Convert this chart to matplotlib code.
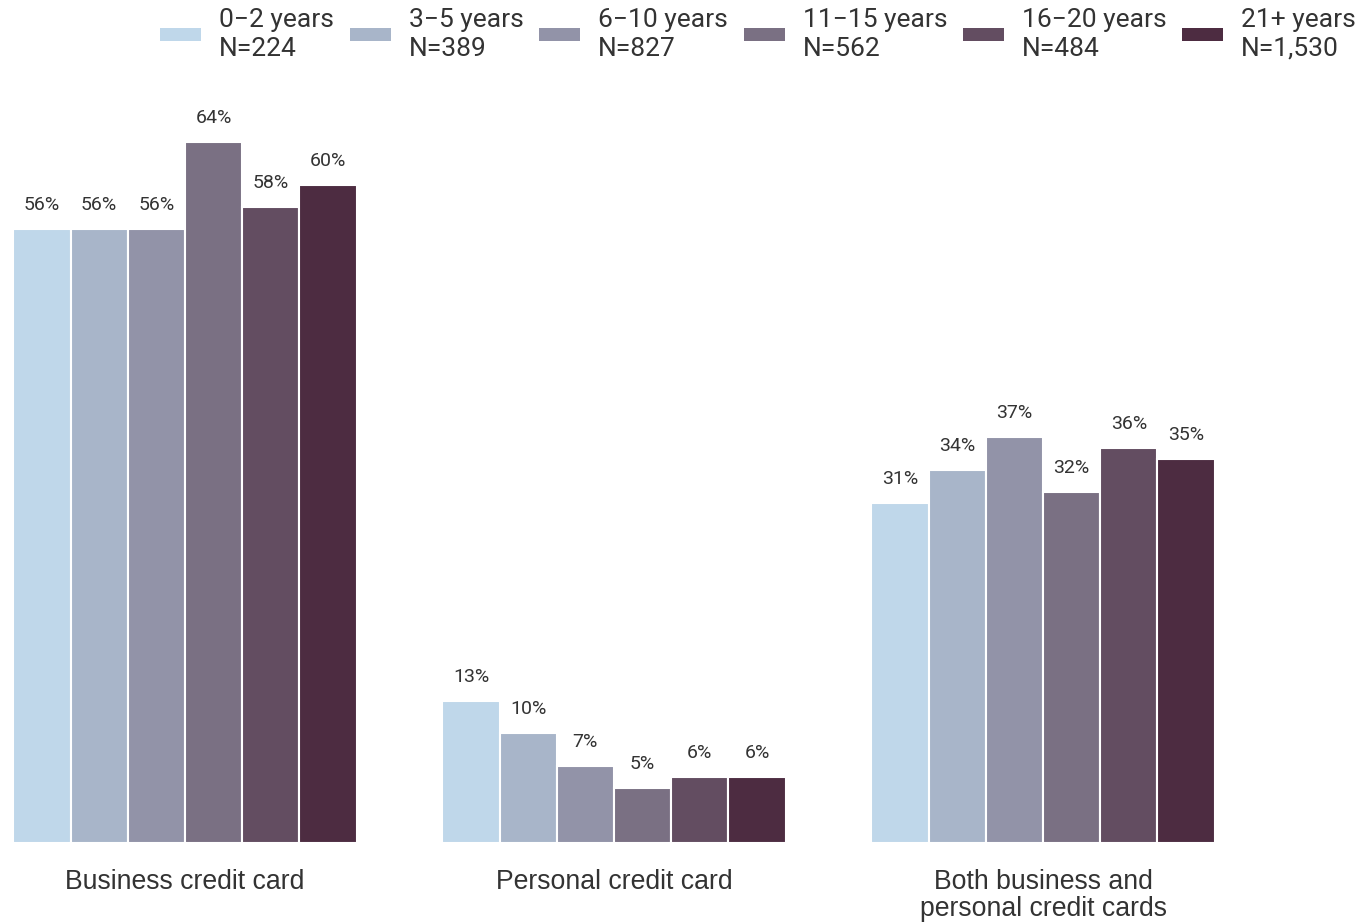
import matplotlib
matplotlib.use("Agg")
import matplotlib.pyplot as plt
import numpy as np
from matplotlib.patches import Rectangle

plt.rcParams['font.family'] = ['Roboto', 'DejaVu Sans']

categories = ["Business credit card", "Personal credit card", "Both business and\npersonal credit cards"]
series_names = ["0\u22122 years\nN=224", "3\u22125 years\nN=389", "6\u221210 years\nN=827",
                "11\u221215 years\nN=562", "16\u221220 years\nN=484", "21+ years\nN=1,530"]
values = [
    [56, 13, 31],
    [56, 10, 34],
    [56, 7, 37],
    [64, 5, 32],
    [58, 6, 36],
    [60, 6, 35],
]
colors = ["#BFD7EA", "#A8B5C9", "#9293A8", "#7A7083", "#634D61", "#4D2C41"]

W, H = 1360, 924
fig = plt.figure(figsize=(W / 100, H / 100), dpi=100)
base_px = 843
top_px = 100
ax = fig.add_axes([0, (H - base_px) / H, 1, (base_px - top_px) / H])
px_per_pct = 10.96
ax.set_ylim(0, (base_px - top_px) / px_per_pct)
grp_px = 429.0
ax.set_xlim(-185 / grp_px, (W - 185) / grp_px)

x = np.arange(len(categories))
n = len(series_names)
bw = 57.2 / grp_px
for i in range(n):
    xs = x + (i - (n - 1) / 2) * bw
    ax.bar(xs, values[i], width=bw, color=colors[i], edgecolor='white', linewidth=1.5)
    for xx, v in zip(xs, values[i]):
        ax.annotate(f"{v}%", (xx, v), xytext=(0, 15), textcoords='offset pixels',
                    ha='center', va='bottom', fontsize=14, color='#333333')

ax.set_xticks(x)
ax.set_xticklabels(categories, fontsize=19.2, color='#333333', linespacing=1.05,
                   family=['Liberation Sans', 'DejaVu Sans'])
ax.tick_params(axis='x', length=0, pad=19)
ax.set_yticks([])
for s in ax.spines.values():
    s.set_visible(False)

handles = [Rectangle((0, 0), 1, 1, facecolor=c, edgecolor='none') for c in colors]
leg = fig.legend(handles, series_names, loc='upper right', bbox_to_anchor=(1356 / W, 1.0 - 8 / H),
                 ncol=6, frameon=False, fontsize=19, handlelength=1.55, handleheight=0.4,
                 handletextpad=0.68, columnspacing=0.6, borderaxespad=0, borderpad=0)
for t in leg.get_texts():
    t.set_color('#333333')
    t.set_linespacing(1.25)

fig.savefig("out.png", dpi=100)
